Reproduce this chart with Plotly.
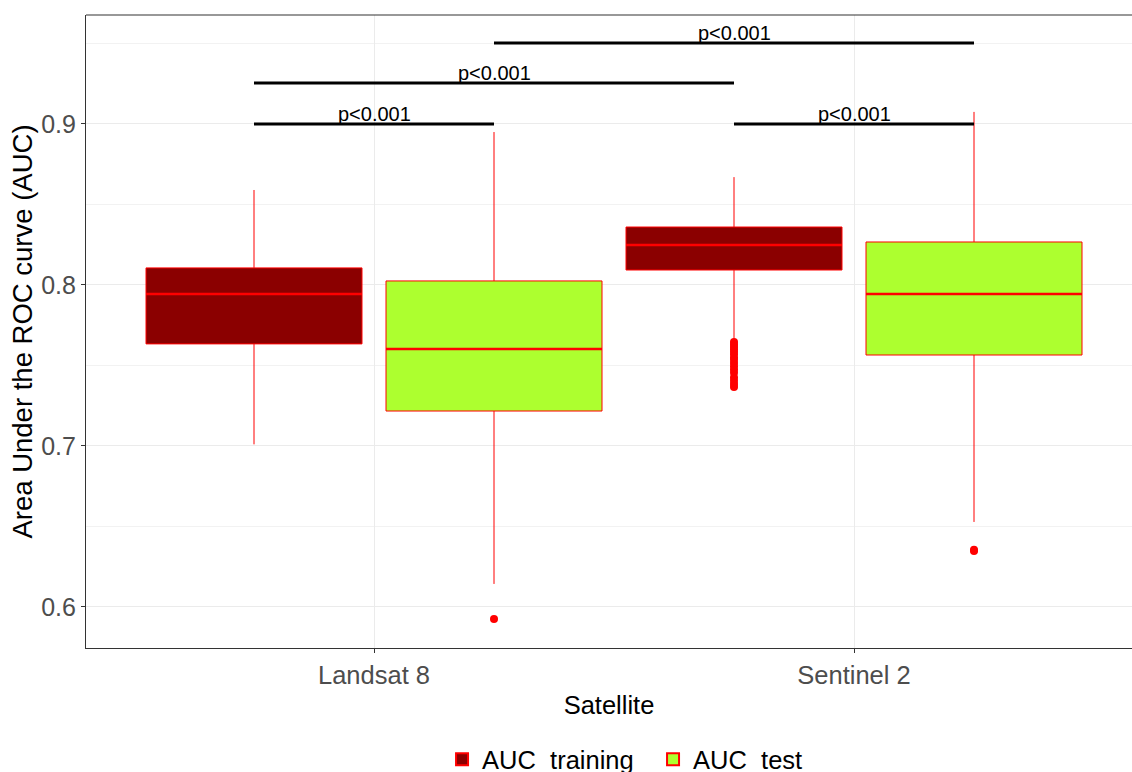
import plotly.graph_objects as go

# Satellite groups and the two AUC series
satellites = ["Landsat 8", "Sentinel 2"]
series = ["AUC_training", "AUC_test"]

# Box summary statistics per satellite (Landsat 8, Sentinel 2)
train_low = [0.701, 0.7665]
train_q1 = [0.7634, 0.8093]
train_median = [0.7944, 0.8248]
train_q3 = [0.8106, 0.8360]
train_high = [0.859, 0.867]

test_low = [0.6143, 0.6528]
test_q1 = [0.7217, 0.7565]
test_median = [0.7602, 0.7944]
test_q3 = [0.8025, 0.8267]
test_high = [0.895, 0.9075]

# Outlying runs
train_outliers = [[], [0.7646, 0.7630, 0.7615, 0.7600, 0.7585, 0.7570, 0.7550,
                       0.7535, 0.7515, 0.7495, 0.7475, 0.7455, 0.7425, 0.7405,
                       0.7385, 0.7366]]
test_outliers = [[0.5925], [0.6348, 0.6355]]

# Pairwise comparisons: (group a, group b, bar height, label)
comp_a = ["Landsat 8|AUC_training", "Landsat 8|AUC_training", "Landsat 8|AUC_test", "Sentinel 2|AUC_training"]
comp_b = ["Landsat 8|AUC_test", "Sentinel 2|AUC_training", "Sentinel 2|AUC_test", "Sentinel 2|AUC_test"]
comp_y = [0.900, 0.9255, 0.9503, 0.900]
comp_label = ["p<0.001", "p<0.001", "p<0.001", "p<0.001"]

FILLS = {"AUC_training": "#8B0000", "AUC_test": "#ADFF2F"}
DODGE = {"AUC_training": -0.25, "AUC_test": 0.25}
BOX_W = 0.45
FONT = "Liberation Sans, Arial, sans-serif"


def xpos(sat, ser):
    return satellites.index(sat) + 1 + DODGE[ser]


fig = go.Figure()

stats = {
    "AUC_training": (train_low, train_q1, train_median, train_q3, train_high, train_outliers),
    "AUC_test": (test_low, test_q1, test_median, test_q3, test_high, test_outliers),
}

for ser in series:
    low, q1, med, q3, high, outl = stats[ser]
    xs = [xpos(s, ser) for s in satellites]
    fig.add_trace(go.Box(
        x=xs, q1=q1, median=med, q3=q3, lowerfence=low, upperfence=high,
        width=BOX_W, whiskerwidth=0, boxpoints=False,
        fillcolor=FILLS[ser], line=dict(color="#FF0000", width=1),
        name=ser, legendgroup=ser, hoverinfo="skip",
    ))
    # thicker median segments
    for x, m in zip(xs, med):
        fig.add_trace(go.Scatter(
            x=[x - BOX_W / 2, x + BOX_W / 2], y=[m, m], mode="lines",
            line=dict(color="#FF0000", width=2.6), showlegend=False,
            legendgroup=ser, hoverinfo="skip",
        ))
    ox, oy = [], []
    for x, vals in zip(xs, outl):
        ox += [x] * len(vals)
        oy += vals
    fig.add_trace(go.Scatter(
        x=ox, y=oy, mode="markers",
        marker=dict(color="#FF0000", size=8, line=dict(width=0)),
        showlegend=False, legendgroup=ser, hoverinfo="skip",
    ))

# Significance brackets
for a, b, yv, lab in zip(comp_a, comp_b, comp_y, comp_label):
    xa = xpos(*a.split("|"))
    xb = xpos(*b.split("|"))
    fig.add_trace(go.Scatter(
        x=[xa, xb], y=[yv, yv], mode="lines",
        line=dict(color="black", width=3), showlegend=False, hoverinfo="skip",
    ))
    fig.add_annotation(
        x=(xa + xb) / 2, y=yv, text=lab, showarrow=False,
        yanchor="bottom", yshift=-3,
        font=dict(family=FONT, size=20, color="black"),
    )

# Top panel border
fig.add_shape(type="line", xref="paper", yref="paper", x0=0, x1=1, y0=1, y1=1,
              line=dict(color="#333333", width=1.2))

fig.update_layout(
    width=1132, height=772,
    margin=dict(l=86, r=0, t=15, b=124),
    paper_bgcolor="white", plot_bgcolor="white",
    font=dict(family=FONT),
    showlegend=True,
    legend=dict(
        orientation="h", xref="container", yref="container",
        x=0.3905, xanchor="left", y=0.016, yanchor="middle",
        font=dict(family=FONT, size=25.5, color="black"),
        itemsizing="constant", traceorder="normal",
        entrywidth=166, entrywidthmode="pixels",
    ),
    xaxis=dict(
        range=[0.4, 0.4 + 1046 / 480],
        tickvals=[1, 2], ticktext=satellites,
        showgrid=True, gridcolor="#EBEBEB", gridwidth=1,
        showline=True, linecolor="#333333", linewidth=1.2,
        ticks="outside", ticklen=4, tickcolor="#333333",
        tickfont=dict(family=FONT, size=25.5, color="#4D4D4D"),
        title=dict(text="Satellite", font=dict(family=FONT, size=25.5, color="black"), standoff=8),
        zeroline=False,
    ),
    yaxis=dict(
        range=[0.5745, 0.9677],
        tickvals=[0.6, 0.7, 0.8, 0.9], ticktext=["0.6", "0.7", "0.8", "0.9"],
        showgrid=True, gridcolor="#EBEBEB", gridwidth=1,
        minor=dict(tickvals=[0.65, 0.75, 0.85, 0.95], showgrid=True,
                   gridcolor="#F2F2F2", gridwidth=0.6),
        showline=True, linecolor="#333333", linewidth=1.2,
        ticks="outside", ticklen=4, tickcolor="#333333",
        tickfont=dict(family=FONT, size=25, color="#4D4D4D"),
        title=dict(text="Area Under the ROC curve (AUC)",
                   font=dict(family=FONT, size=27.5, color="black"), standoff=0),
        zeroline=False,
    ),
)

fig.write_html("out.html")
